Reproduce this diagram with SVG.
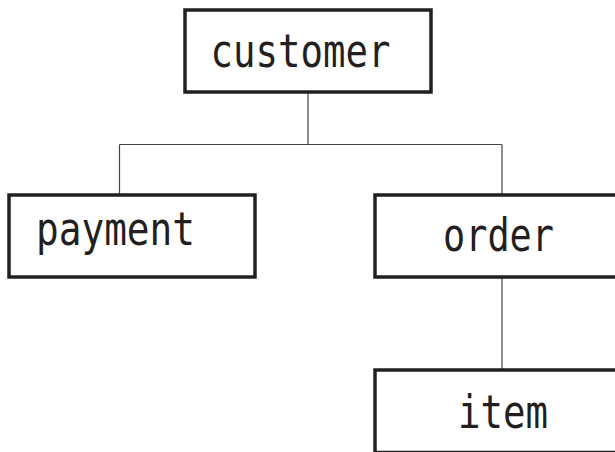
<svg xmlns="http://www.w3.org/2000/svg" width="615" height="452" viewBox="0 0 615 452">
<style>
.box{fill:#fff;stroke:#231f20;stroke-width:3.5}
.lbl{font-family:"DejaVu Sans Mono","Liberation Mono",monospace;font-size:47px;fill:#231f20}
.con{fill:none;stroke:#444;stroke-width:1.2}
</style>
<rect width="615" height="452" fill="#fff"/>
<g id="connectors">
<path class="con" d="M308,92 V144.5 M119.5,144.5 H502 M119.5,144.5 V195 M502,144.5 V195"/>
<path class="con" d="M502,277 V370"/>
</g>
<g id="customer">
<rect class="box" x="185" y="10" width="246" height="82"/>
<text class="lbl" x="210.5" y="67" textLength="180" lengthAdjust="spacingAndGlyphs">customer</text>
</g>
<g id="payment">
<rect class="box" x="9" y="195" width="246" height="82"/>
<text class="lbl" x="36" y="245" textLength="159" lengthAdjust="spacingAndGlyphs">payment</text>
</g>
<g id="order">
<rect class="box" x="375" y="195" width="252" height="82"/>
<text class="lbl" x="443" y="251" textLength="111" lengthAdjust="spacingAndGlyphs">order</text>
</g>
<g id="item">
<rect class="box" x="375" y="370" width="252" height="82.5"/>
<text class="lbl" x="458" y="428" textLength="90" lengthAdjust="spacingAndGlyphs">item</text>
</g>
</svg>
